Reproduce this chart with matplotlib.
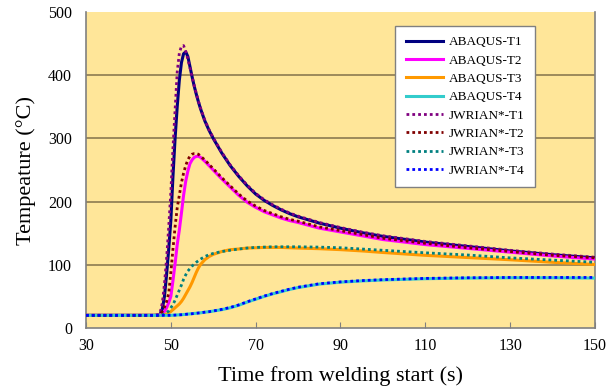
import matplotlib.pyplot as plt

# 时间 (s) 与各测点温度 (°C)
t = [30, 35, 40, 45, 46, 47, 47.5, 48, 48.5, 49, 49.5, 50, 50.5, 51, 51.5, 52, 52.5, 53, 53.5, 54,
     54.5, 55, 55.5, 56, 56.5, 57, 58, 59, 60, 62, 64, 66, 68, 70, 72, 74, 76, 78, 80, 85,
     90, 95, 100, 110, 120, 130, 140, 150]

abaqus_t1 = [20, 20, 20, 20, 20, 20.5, 22, 30, 50, 85, 125, 170, 240, 300, 350, 392, 420, 434, 437, 430,
             414, 398, 383, 370, 358, 347, 328, 313, 300, 277, 257, 240, 225, 212, 202, 194, 187, 181, 176, 166,
             158, 151, 145, 136, 129, 122, 116, 111]
abaqus_t2 = [20, 20, 20, 20, 20, 20, 21, 22, 26, 32, 40, 50, 75, 102, 132, 155, 182, 210, 232, 248,
             260, 266, 270, 271.5, 272, 270, 264, 257, 250, 236, 223, 210, 199, 191, 184, 179, 174, 170, 167, 158,
             152, 146, 140, 132, 126, 120, 114, 109]
abaqus_t3 = [20, 20, 20, 20, 20, 20, 20, 20.5, 21, 22, 24, 26, 29, 32, 35, 38, 42, 47, 53, 59,
             65, 72, 80, 88, 95, 100.5, 108, 113, 116.5, 121, 124, 125, 126.5, 127, 127.5, 127.5, 127.5, 127, 126.5, 125.5,
             124, 122, 119.5, 115, 111.5, 108, 104, 100.5]
abaqus_t4 = [20, 20, 20, 20, 20, 20, 20, 20, 20, 20, 20, 20, 20.2, 20.4, 20.6, 20.8, 21, 21.3, 21.6, 22,
             22.3, 22.6, 23, 23.3, 23.7, 24, 25, 25.8, 26.8, 29, 32, 36, 41, 45.5, 50, 54, 57.5, 61, 64, 69.5,
             72.5, 74.5, 76, 78, 79, 79.5, 79.5, 79]

jwrian_t1 = [20, 20, 20, 20, 20, 21, 25, 40, 70, 110, 160, 215, 285, 345, 405, 435, 446, 447, 438, 426,
             412, 398, 384, 371, 359, 348, 329, 314, 301, 278, 258, 241, 226, 213, 203, 195, 188, 182, 177, 167,
             159, 152, 146, 137, 130, 123, 117, 112]
jwrian_t2 = [20, 20, 20, 20, 20, 20, 22, 26, 33, 42, 55, 88, 125, 160, 190, 210, 230, 245, 257, 266,
             272, 275, 276, 276, 275, 272, 266, 259, 252, 238, 225, 212, 201, 193, 186, 181, 176, 172, 169, 160,
             154, 148, 142, 134, 127, 121, 115, 111]
jwrian_t3 = [20, 20, 20, 20, 20, 20, 20.5, 21, 22, 24, 27, 32, 37, 44, 52, 60, 68, 77, 84, 90,
             94, 98, 101, 104, 106.5, 109, 113, 116, 118, 121, 123, 125, 126.5, 127.5, 128, 128.5, 128.5, 128.5, 128.5, 128,
             127, 125, 123, 119, 115.5, 111, 107.5, 104]
jwrian_t4 = [20, 20, 20, 20, 20, 20, 20, 20, 20, 20, 20, 20, 20.2, 20.4, 20.6, 20.8, 21, 21.3, 21.6, 22,
             22.3, 22.6, 23, 23.3, 23.7, 24, 25, 25.8, 27, 29.5, 32.5, 36.5, 41.5, 46, 50.5, 54.5, 58, 61.5, 64.5, 70,
             73, 75, 76.5, 78.5, 79.5, 80, 80, 80]

plt.rcParams['font.family'] = 'Liberation Serif'

fig = plt.figure(figsize=(6.07, 3.90), dpi=100)
ax = fig.add_axes([0.1417, 0.159, 0.8385, 0.810])
ax.set_facecolor('#FFE699')

# 有限元计算结果(实线)
ax.plot(t, abaqus_t1, color='#000080', lw=2.2, label='ABAQUS-T1', zorder=3)
ax.plot(t, abaqus_t2, color='#FF00FF', lw=2.2, label='ABAQUS-T2', zorder=3)
ax.plot(t, abaqus_t3, color='#FF9900', lw=2.2, label='ABAQUS-T3', zorder=3)
ax.plot(t, abaqus_t4, color='#33CCCC', lw=2.2, label='ABAQUS-T4', zorder=3)

# JWRIAN 结果(点线)
dots = (0, (1, 1.1))
ax.plot(t, jwrian_t1, color='#800080', lw=2, ls=dots, label='JWRIAN*-T1', zorder=4)
ax.plot(t, jwrian_t2, color='#800000', lw=2, ls=dots, label='JWRIAN*-T2', zorder=4)
ax.plot(t, jwrian_t3, color='#008080', lw=2, ls=dots, label='JWRIAN*-T3', zorder=4)
ax.plot(t, jwrian_t4, color='#0000FF', lw=2, ls=dots, label='JWRIAN*-T4', zorder=4)

ax.set_xlim(30, 150)
ax.set_ylim(0, 500)
ax.set_xticks(range(30, 151, 20))
ax.set_yticks(range(0, 501, 100))
for y in range(100, 500, 100):
    ax.axhline(y, color='#8C7A50', lw=1.2, zorder=1)

ax.spines['top'].set_visible(False)
for side in ['left', 'bottom', 'right']:
    ax.spines[side].set_color('#808080')
    ax.spines[side].set_linewidth(1.2)

ax.tick_params(axis='x', direction='in', length=4, color='#808080', labelsize=11.5, pad=7)
ax.tick_params(axis='y', length=0, labelsize=11.5, pad=10)

ax.set_xlabel('Time from welding start (s)', fontsize=16, labelpad=9)
ax.set_ylabel('Tempeature (°C)', fontsize=16, labelpad=9)

leg = ax.legend(loc='upper right', bbox_to_anchor=(0.896, 0.978), fontsize=9.5,
                fancybox=False, framealpha=1, edgecolor='#808080', handlelength=2.8,
                handletextpad=0.5, labelspacing=0.46, borderpad=0.8)
leg.get_frame().set_linewidth(1.0)

plt.savefig('out.png', dpi=100)
